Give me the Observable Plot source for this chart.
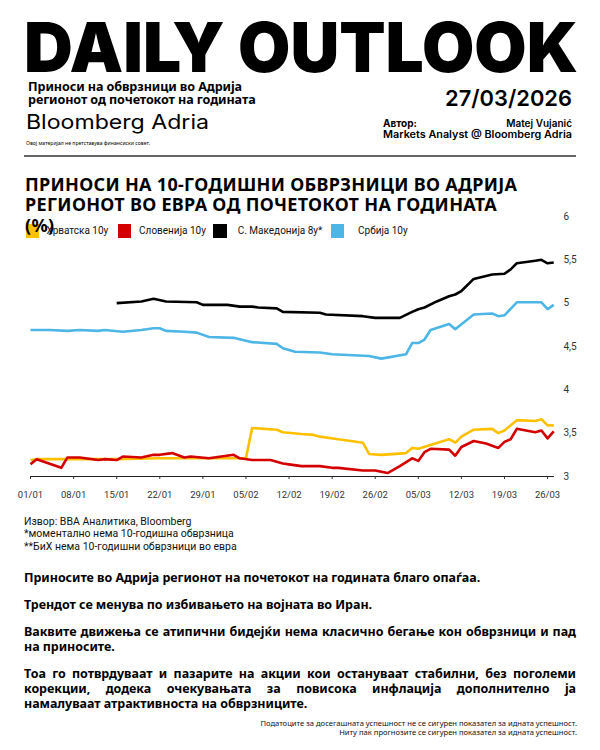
<!DOCTYPE html>
<html>
<head>
<meta charset="utf-8">
<script src="https://cdn.jsdelivr.net/npm/d3@7"></script>
<script src="https://cdn.jsdelivr.net/npm/@observablehq/plot@0.6"></script>
<style>
  html, body { margin: 0; padding: 0; background: #fff; }
  #page { position: relative; width: 600px; height: 750px; overflow: hidden; background: #fff; color: #000; }
  .abs { position: absolute; }
  #title { left: 25px; top: 173.6px; font-family: "Noto Sans", sans-serif; font-weight: 700; font-size: 18px; line-height: 20.7px; letter-spacing: 0.3px; z-index: 3; white-space: nowrap; }
  #legend { left: 0; top: 224.3px; width: 600px; height: 14px; z-index: 2; font-family: Roboto, sans-serif; font-size: 10px; color: #111; }
  .sw { position: absolute; top: 0; width: 13.4px; height: 13.4px; }
  .lb { position: absolute; top: 0; line-height: 13.4px; white-space: nowrap; }
  #chart { left: 0; top: 200px; z-index: 1; }
  #notes { left: 24px; top: 515.5px; font-family: Roboto, sans-serif; font-size: 10.5px; line-height: 12.5px; color: #111; }
  #body { left: 24px; top: 569.5px; width: 552px; font-family: "Noto Sans", sans-serif; font-weight: 700; font-size: 12.5px; line-height: 15px; letter-spacing: -0.05px; }
  #body p { margin: 0 0 12px 0; }
  #body .j { display: block; text-align: justify; text-align-last: justify; }
  #disc { right: 23px; top: 718.5px; font-family: "Noto Sans", sans-serif; font-size: 7.6px; line-height: 9px; text-align: right; color: #111; white-space: nowrap; }
</style>
</head>
<body>
<div id="page">
  <svg class="abs" style="left:0;top:0" width="600" height="160">
    <text x="24" y="71.7" textLength="554" lengthAdjust="spacingAndGlyphs" font-family="Inter, 'Liberation Sans', sans-serif" font-weight="900" font-size="69">DAILY OUTLOOK</text>
    <text x="28" y="91.3" font-family="'Noto Sans', sans-serif" font-weight="700" font-size="12.6" letter-spacing="-0.1">Приноси на обврзници во Адрија</text>
    <text x="28" y="104.3" font-family="'Noto Sans', sans-serif" font-weight="700" font-size="12.6" letter-spacing="-0.1">регионот од почетокот на годината</text>
    <text x="572" y="106" text-anchor="end" font-family="Inter, sans-serif" font-weight="600" font-size="22" textLength="127" lengthAdjust="spacingAndGlyphs">27/03/2026</text>
    <text x="26" y="128.5" font-family="Inter, sans-serif" font-weight="400" font-size="20" textLength="183" lengthAdjust="spacingAndGlyphs">Bloomberg Adria</text>
    <text x="26" y="145" font-family="'Noto Sans', sans-serif" font-size="5.5" textLength="124" lengthAdjust="spacingAndGlyphs">Овој материјал не претставува финансиски совет.</text>
    <text x="383" y="127.3" font-family="Inter, sans-serif" font-weight="700" font-size="10">Автор:</text>
    <text x="572" y="127.3" text-anchor="end" font-family="Inter, sans-serif" font-weight="600" font-size="10">Matej Vujanić</text>
    <text x="383" y="138" font-family="Inter, sans-serif" font-weight="600" font-size="10" textLength="189" lengthAdjust="spacingAndGlyphs">Markets Analyst @ Bloomberg Adria</text>
    <line x1="24" x2="576" y1="156" y2="156" stroke="#333" stroke-width="1.3"></line>
  </svg>

  <div id="title" class="abs">ПРИНОСИ НА 10-ГОДИШНИ ОБВРЗНИЦИ ВО АДРИЈА<br>РЕГИОНОТ ВО ЕВРА ОД ПОЧЕТОКОТ НА ГОДИНАТА<br>(%)</div>
  <div id="legend" class="abs"></div>
  <div id="chart" class="abs"></div>

  <div id="notes" class="abs">Извор: BBA Аналитика, Bloomberg<br>*моментално нема 10-годишна обврзница<br>**БиХ нема 10-годишни обврзници во евра</div>

  <div id="body" class="abs">
    <p>Приносите во Адрија регионот на почетокот на годината благо опаѓаа.</p>
    <p>Трендот се менува по избивањето на војната во Иран.</p>
    <p><span class="j">Ваквите движења се атипични бидејќи нема класично бегање кон обврзници и пад</span>на приносите.</p>
    <p><span class="j">Тоа го потврдуваат и пазарите на акции кои остануваат стабилни, без поголеми</span><span class="j">корекции, додека очекувањата за повисока инфлација дополнително ја</span>намалуваат атрактивноста на обврзниците.</p>
  </div>

  <div id="disc" class="abs">Податоците за досегашната успешност не се сигурен показател за идната успешност.<br>Ниту пак прогнозите се сигурен показател за идната успешност.</div>
</div>

<script>
// ---- Data ----
const seriesNames = ["Хрватска 10y", "Словенија 10y", "С. Македонија 8y*", "Србија 10y"];
const seriesColors = ["#FFC000", "#D40000", "#000000", "#4DB6E6"];

const hrDates = ["01-01","01-02","01-08","01-15","01-22","01-29","02-05","02-06","02-10","02-11","02-14","02-16","02-17","02-20","02-24","02-25","02-27","03-03","03-04","03-05","03-10","03-11","03-12","03-14","03-17","03-18","03-19","03-21","03-24","03-25","03-26","03-27"];
const hrValues = [3.19,3.20,3.20,3.20,3.21,3.21,3.21,3.56,3.54,3.51,3.49,3.48,3.46,3.43,3.39,3.26,3.25,3.27,3.33,3.32,3.43,3.39,3.46,3.54,3.55,3.50,3.53,3.65,3.64,3.66,3.59,3.59];

const siDates = ["01-01","01-02","01-06","01-07","01-09","01-12","01-13","01-15","01-16","01-19","01-21","01-22","01-24","01-26","01-27","01-30","02-01","02-03","02-04","02-06","02-09","02-11","02-12","02-14","02-17","02-19","02-20","02-24","02-26","02-28","03-02","03-04","03-05","03-06","03-07","03-10","03-11","03-12","03-14","03-16","03-18","03-19","03-20","03-21","03-24","03-25","03-26","03-27"];
const siValues = [3.14,3.20,3.10,3.22,3.22,3.19,3.20,3.19,3.23,3.22,3.25,3.25,3.27,3.22,3.23,3.21,3.23,3.25,3.21,3.19,3.19,3.15,3.14,3.12,3.12,3.10,3.10,3.07,3.07,3.04,3.12,3.21,3.18,3.28,3.32,3.31,3.24,3.34,3.41,3.38,3.33,3.40,3.43,3.55,3.51,3.53,3.44,3.52];

const mkDates = ["01-15","01-19","01-21","01-23","01-28","01-29","02-02","02-04","02-06","02-07","02-10","02-11","02-17","02-18","02-24","02-26","03-02","03-04","03-05","03-06","03-08","03-10","03-11","03-12","03-14","03-17","03-19","03-20","03-21","03-24","03-25","03-26","03-27"];
const mkValues = [5.00,5.02,5.05,5.02,5.01,4.98,4.98,4.96,4.96,4.95,4.94,4.90,4.89,4.87,4.85,4.83,4.83,4.90,4.93,4.95,5.02,5.08,5.10,5.14,5.28,5.33,5.34,5.39,5.46,5.49,5.50,5.46,5.47];

const rsDates = ["01-01","01-04","01-07","01-09","01-12","01-13","01-16","01-19","01-21","01-22","01-23","01-26","01-28","01-30","02-03","02-06","02-10","02-11","02-13","02-17","02-19","02-25","02-27","03-03","03-04","03-05","03-06","03-07","03-10","03-11","03-14","03-17","03-18","03-19","03-21","03-25","03-26","03-27"];
const rsValues = [4.69,4.69,4.68,4.69,4.68,4.69,4.67,4.69,4.71,4.71,4.68,4.67,4.66,4.61,4.60,4.55,4.53,4.48,4.44,4.43,4.41,4.39,4.36,4.41,4.54,4.54,4.58,4.69,4.76,4.70,4.87,4.88,4.85,4.86,5.01,5.01,4.93,4.98];

const xTickLabels = ["01/01","08/01","15/01","22/01","29/01","05/02","12/02","19/02","26/02","05/03","12/03","19/03","26/03"];
const yTicks = [3, 3.5, 4, 4.5, 5, 5.5, 6];

// ---- Build table ----
const parseMD = s => { const [m, d] = s.split("-").map(Number); return new Date(Date.UTC(2026, m - 1, d)); };
const parseDM = s => { const [d, m] = s.split("/").map(Number); return new Date(Date.UTC(2026, m - 1, d)); };
const allDates = [hrDates, siDates, mkDates, rsDates];
const allValues = [hrValues, siValues, mkValues, rsValues];
const rows = [];
seriesNames.forEach((name, i) => {
  allDates[i].forEach((ds, j) => rows.push({series: name, date: parseMD(ds), value: allValues[i][j]}));
});

// ---- Legend ----
const legend = document.getElementById("legend");
const swLeft = [26, 117.7, 213.3, 330.7];
const lbGap = [7, 8, 11, 14];
seriesNames.forEach((name, i) => {
  const sw = document.createElement("div");
  sw.className = "sw"; sw.style.left = swLeft[i] + "px"; sw.style.background = seriesColors[i];
  const lb = document.createElement("div");
  lb.className = "lb"; lb.style.left = (swLeft[i] + 13.4 + lbGap[i]) + "px"; lb.textContent = name;
  legend.appendChild(sw); legend.appendChild(lb);
});

// ---- Chart ----
const chart = Plot.plot({
  width: 600,
  height: 310,
  marginTop: 16,
  marginBottom: 34,
  marginLeft: 30,
  marginRight: 46,
  style: {fontFamily: "Roboto, sans-serif", fontSize: "10px", color: "#333", background: "transparent", overflow: "visible"},
  x: {type: "utc", domain: [new Date(Date.UTC(2026, 0, 1)), new Date(Date.UTC(2026, 2, 27, 3))]},
  y: {domain: [3, 6]},
  color: {domain: seriesNames, range: seriesColors},
  marks: [
    Plot.ruleY([3], {stroke: "#222", strokeWidth: 1}),
    Plot.axisX({ticks: xTickLabels.map(parseDM), tickFormat: d3.utcFormat("%d/%m"), tickSize: 3, tickPadding: 12, fontSize: 9.5, label: null, stroke: "#333"}),
    Plot.axisY({anchor: "right", ticks: yTicks, tickSize: 0, tickPadding: 9, tickFormat: d => String(d).replace(".", ","), label: null, fontSize: 10}),
    Plot.lineY(rows, {x: "date", y: "value", z: "series", stroke: "series", strokeWidth: 2.6, strokeLinejoin: "round", strokeLinecap: "butt"})
  ]
});
document.getElementById("chart").appendChild(chart);
</script>
</body>
</html>
